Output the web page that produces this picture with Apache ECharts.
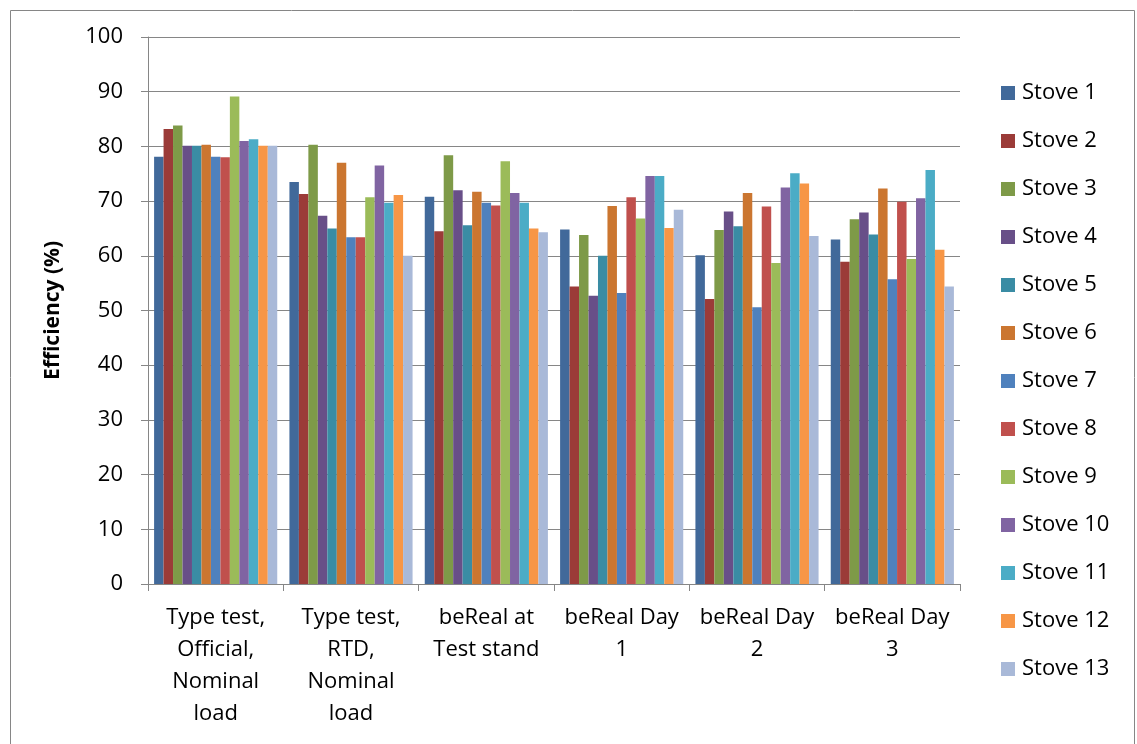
<!DOCTYPE html>
<html>
<head>
<meta charset="utf-8">
<script src="https://cdn.jsdelivr.net/npm/echarts@6/dist/echarts.min.js"></script>
<style>
html,body{margin:0;padding:0;background:#fff;}
#main{width:1137px;height:744px;}
</style>
</head>
<body>
<div id="main"></div>
<script>
var categories = ["Type test,\nOfficial,\nNominal\nload", "Type test,\nRTD,\nNominal\nload", "beReal at\nTest stand", "beReal Day\n1", "beReal Day\n2", "beReal Day\n3"];
var seriesNames = ["Stove 1","Stove 2","Stove 3","Stove 4","Stove 5","Stove 6","Stove 7","Stove 8","Stove 9","Stove 10","Stove 11","Stove 12","Stove 13"];
var stove1  = [78.1, 73.5, 70.8, 64.8, 60.1, 63.0];
var stove2  = [83.2, 71.3, 64.5, 54.4, 52.1, 58.9];
var stove3  = [83.8, 80.3, 78.4, 63.8, 64.7, 66.7];
var stove4  = [80.1, 67.3, 72.0, 52.7, 68.1, 67.9];
var stove5  = [80.1, 65.0, 65.6, 60.0, 65.4, 63.9];
var stove6  = [80.3, 77.0, 71.7, 69.1, 71.5, 72.3];
var stove7  = [78.1, 63.4, 69.7, 53.2, 50.6, 55.7];
var stove8  = [78.0, 63.4, 69.2, 70.7, 69.0, 69.9];
var stove9  = [89.1, 70.7, 77.3, 66.8, 58.7, 59.4];
var stove10 = [81.0, 76.5, 71.5, 74.6, 72.5, 70.5];
var stove11 = [81.3, 69.7, 69.7, 74.6, 75.1, 75.7];
var stove12 = [80.1, 71.1, 65.0, 65.1, 73.2, 61.1];
var stove13 = [80.1, 60.0, 64.3, 68.4, 63.6, 54.4];
var seriesData = [stove1, stove2, stove3, stove4, stove5, stove6, stove7, stove8, stove9, stove10, stove11, stove12, stove13];
var colors = ["#41699A","#9B3B38","#7E9A48","#684F88","#3A8CA4","#CB7630","#4F81BD","#C0504D","#9BBB59","#8064A2","#4BACC6","#F79646","#A9B9D8"];
var yTicks = {min: 0, max: 100, interval: 10};

var FONT = "Open Sans";
var chart = echarts.init(document.getElementById('main'));
chart.setOption({
  animation: false,
  color: colors,
  textStyle: {fontFamily: FONT},
  graphic: [{
    type: 'rect', left: 8, top: 8, shape: {width: 1124, height: 734},
    style: {fill: 'none', stroke: '#868686', lineWidth: 1}, silent: true, z: -10
  }],
  grid: {left: 148, right: 177, top: 37, bottom: 160},
  legend: {
    orient: 'vertical', left: 996, top: 77,
    itemWidth: 14, itemHeight: 14, itemGap: 26,
    icon: 'rect',
    textStyle: {fontFamily: FONT, fontSize: 22, color: '#000', padding: [0,0,0,2]},
    data: seriesNames
  },
  xAxis: {
    type: 'category', data: categories,
    axisLine: {lineStyle: {color: '#868686', width: 1}},
    axisTick: {show: true, length: 7, lineStyle: {color: '#868686'}},
    axisLabel: {fontFamily: FONT, fontSize: 22, color: '#000', lineHeight: 32, margin: 18, interval: 0}
  },
  yAxis: {
    type: 'value', min: yTicks.min, max: yTicks.max, interval: yTicks.interval,
    name: 'Efficiency (%)', nameLocation: 'middle', nameGap: 84, nameRotate: 90,
    nameTextStyle: {fontFamily: FONT, fontSize: 21, fontWeight: 'bold', color: '#000'},
    axisLine: {show: true, lineStyle: {color: '#868686'}},
    axisTick: {show: true, length: 7, lineStyle: {color: '#868686'}},
    splitLine: {lineStyle: {color: '#868686', width: 1}},
    axisLabel: {fontFamily: FONT, fontSize: 22, color: '#000', margin: 25}
  },
  series: seriesNames.map(function(n, i){
    return {name: n, type: 'bar', data: seriesData[i], barGap: '0%', barCategoryGap: '9%'};
  })
});
</script>
</body>
</html>
